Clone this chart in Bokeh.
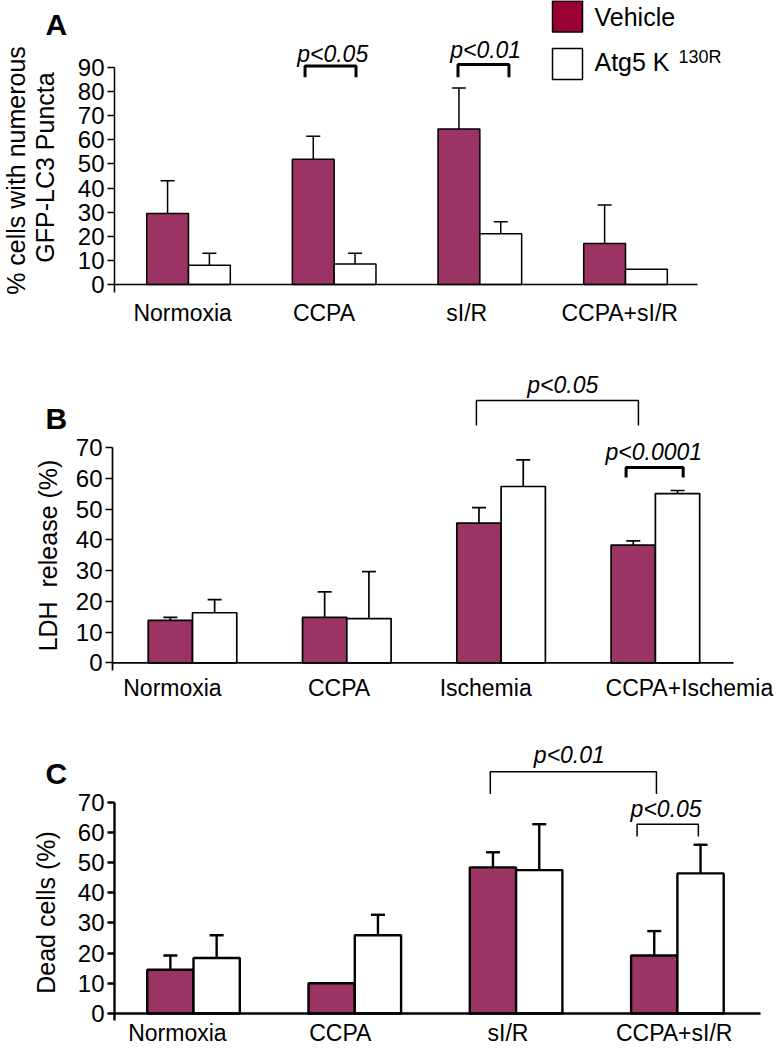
import numpy as np
from bokeh.plotting import figure
from bokeh.layouts import column
from bokeh.models import Range1d, FixedTicker, Whisker, TeeHead, ColumnDataSource
from bokeh.embed import file_html
from bokeh.resources import INLINE
from bokeh.core.properties import value

# ---------------- data ----------------
SERIES = ["Vehicle", "Atg5 K", "130R"]

A_CATS = ["Normoxia", "CCPA", "sI/R", "CCPA+sI/R"]
A_VEH = [29.5, 52.0, 64.5, 17.0]
A_VEH_ERR = [13.5, 9.5, 17.0, 16.0]
A_MUT = [8.0, 8.5, 21.0, 6.3]
A_MUT_ERR = [5.0, 4.5, 5.0, 0.0]
A_TICKS = [0, 10, 20, 30, 40, 50, 60, 70, 80, 90]
A_YLABEL = ["% cells with numerous", "GFP-LC3 Puncta"]
A_PVALS = ["p<0.05", "p<0.01"]

B_CATS = ["Normoxia", "CCPA", "Ischemia", "CCPA+Ischemia"]
B_VEH = [13.8, 14.8, 45.5, 38.3]
B_VEH_ERR = [1.0, 8.3, 5.0, 1.4]
B_MUT = [16.3, 14.4, 57.4, 55.1]
B_MUT_ERR = [4.3, 15.3, 8.7, 1.0]
B_TICKS = [0, 10, 20, 30, 40, 50, 60, 70]
B_YLABEL = ["LDH\u00a0\u00a0release (%)"]
B_PVALS = ["p<0.05", "p<0.0001"]

C_CATS = ["Normoxia", "CCPA", "sI/R", "CCPA+sI/R"]
C_VEH = [14.5, 10.0, 48.4, 19.2]
C_VEH_ERR = [4.7, 0.0, 5.0, 8.1]
C_MUT = [18.4, 25.9, 47.5, 46.4]
C_MUT_ERR = [7.5, 6.8, 15.2, 9.5]
C_TICKS = [0, 10, 20, 30, 40, 50, 60, 70]
C_YLABEL = ["Dead cells (%)"]
C_PVALS = ["p<0.01", "p<0.05"]

# ---------------- style / layout ----------------
FONT = "Liberation Sans"
VEH_FILL = "#9B3464"
LEG_FILL = "#990036"
MUT_FILL = "#FFFFFF"
BW = 0.287
W = 780
PAGE_LEFT = 0

# brackets: (x_left, x_right, y_top, y_leg, text_x, text_y, line_width)
A_BRACKETS = [(0.80, 1.15, 90.6, 86.0, 0.99, 95.8, 3), (1.85, 2.20, 91.2, 86.0, 2.04, 97.1, 3)]
B_BRACKETS = [(1.84, 2.89, 85.4, 77.3, 2.40, 90.3, 1.5), (2.81, 3.18, 63.6, 60.3, 2.99, 68.6, 3)]
C_BRACKETS = [(1.84, 2.87, 80.1, 72.7, 2.33, 85.6, 1.5), (2.75, 3.13, 62.7, 58.6, 2.93, 67.8, 1.5)]

A_LABEL_POS = [-0.04, 0.93, 1.91, 2.96]
B_LABEL_POS = [-0.13, 0.95, 1.90, 3.22]
C_LABEL_POS = [-0.10, 0.91, 1.95, 2.98]

# page-pixel geometry of each panel
GEOM_A = dict(fig_top=0, fig_h=343, y0=284.0, ppu=2.411, axis_low=292,
              xc0=188.0, ppg=145.67, axis_x=114, axis_end=697,
              letter=(45, 24), ylab_x=[15, 44], ylab_y=[170, 167], ylab_size="25px",
              lw=1.5, xstand=7)
GEOM_B = dict(fig_top=343, fig_h=360, y0=662.3, ppu=3.071, axis_low=670,
              xc0=192.0, ppg=154.3, axis_x=112, axis_end=733,
              letter=(45, 417.5), ylab_x=[47], ylab_y=[555], ylab_size="25px",
              lw=1.7, xstand=4)
GEOM_C = dict(fig_top=703, fig_h=345, y0=1013.0, ppu=3.019, axis_low=1020,
              xc0=193.0, ppg=161.3, axis_x=114, axis_end=760,
              letter=(45, 773), ylab_x=[45], ylab_y=[912], ylab_size="25px",
              lw=2.4, xstand=-1)


def build(g, cats, veh, veh_err, mut, mut_err, yticks, ylabel, letter, brackets, pvals,
          label_pos):
    ppu, ppg = g["ppu"], g["ppg"]

    def dy(py):
        return (g["y0"] - py) / ppu

    def dx(px):
        return (px - g["xc0"]) / ppg

    y_start = dy(g["fig_top"] + g["fig_h"])
    y_end = dy(g["fig_top"])
    x_start = dx(PAGE_LEFT)
    x_end = dx(PAGE_LEFT + W)
    lw = g["lw"]
    p = figure(width=W, height=g["fig_h"], x_range=Range1d(x_start, x_end),
               y_range=Range1d(y_start, y_end), output_backend="svg",
               toolbar_location=None, title=None,
               min_border_left=0, min_border_right=0, min_border_top=0, min_border_bottom=0)
    p.outline_line_color = None
    p.grid.visible = False
    p.background_fill_color = "white"
    p.border_fill_color = "white"

    n = len(cats)
    idx = np.arange(n)
    src_v = ColumnDataSource(dict(x=idx - BW / 2, top=veh))
    src_m = ColumnDataSource(dict(x=idx + BW / 2, top=mut))
    p.vbar(x="x", top="top", bottom=0, width=BW, source=src_v, fill_color=VEH_FILL,
           line_color="black", line_width=lw)
    p.vbar(x="x", top="top", bottom=0, width=BW, source=src_m, fill_color=MUT_FILL,
           line_color="black", line_width=lw)

    for xs, tops, errs in [(idx - BW / 2, veh, veh_err), (idx + BW / 2, mut, mut_err)]:
        keep = [i for i in range(n) if errs[i] > 0]
        src = ColumnDataSource(dict(base=[float(xs[i]) for i in keep],
                                    lower=[tops[i] for i in keep],
                                    upper=[tops[i] + errs[i] for i in keep]))
        w = Whisker(source=src, base="base", lower="lower", upper="upper",
                    dimension="height", line_width=lw, line_color="black",
                    upper_head=TeeHead(size=14, line_width=lw, line_color="black"),
                    lower_head=None)
        p.add_layout(w)

    # x baseline
    ax_x = dx(g["axis_x"])
    p.segment(x0=[ax_x], y0=[0], x1=[dx(g["axis_end"])], y1=[0], line_color="black",
              line_width=lw)

    # significance brackets
    for (x1, x2, yt, yl, tx, ty, blw), txt in zip(brackets, pvals):
        p.line(x=[x1, x1, x2, x2], y=[yl, yt, yt, yl], line_color="black", line_width=blw)
        p.text(x=[tx], y=[ty], text=[txt], text_font=value(FONT), text_font_style="italic",
               text_font_size="23px", text_align="center", text_baseline="middle",
               text_color="black")

    # panel letter
    p.text(x=[dx(g["letter"][0])], y=[dy(g["letter"][1])], text=[letter],
           text_font=value(FONT), text_font_style="bold", text_font_size="30px",
           text_align="left", text_baseline="middle", text_color="black")

    # y axis title (rotated)
    p.text(x=[dx(v) for v in g["ylab_x"]], y=[dy(v) for v in g["ylab_y"]], text=ylabel,
           angle=np.pi / 2, text_font=value(FONT), text_font_size=g["ylab_size"],
           text_align="center", text_baseline="middle", text_color="black")

    yax = p.yaxis[0]
    yax.fixed_location = ax_x
    yax.ticker = FixedTicker(ticks=yticks)
    yax.bounds = (dy(g["axis_low"]), yticks[-1])
    yax.major_tick_out = 7
    yax.major_tick_in = 0
    yax.minor_tick_out = 0
    yax.minor_tick_in = 0
    yax.axis_line_width = lw
    yax.major_tick_line_width = lw
    yax.major_label_text_font = FONT
    yax.major_label_text_font_size = "24px"
    yax.major_label_text_color = "black"
    yax.major_label_standoff = 3

    xax = p.xaxis[0]
    xax.fixed_location = dy(g["axis_low"])
    xax.ticker = FixedTicker(ticks=label_pos)
    xax.major_label_overrides = {pos: c for pos, c in zip(label_pos, cats)}
    xax.axis_line_color = None
    xax.major_tick_line_color = None
    xax.minor_tick_line_color = None
    xax.major_tick_out = 0
    xax.major_tick_in = 0
    xax.major_label_text_font = FONT
    xax.major_label_text_font_size = "23px"
    xax.major_label_text_color = "black"
    xax.major_label_standoff = g["xstand"]
    return p, dx, dy


pA, dxA, dyA = build(GEOM_A, A_CATS, A_VEH, A_VEH_ERR, A_MUT, A_MUT_ERR, A_TICKS, A_YLABEL,
                     "A", A_BRACKETS, A_PVALS, A_LABEL_POS)
pB, _, _ = build(GEOM_B, B_CATS, B_VEH, B_VEH_ERR, B_MUT, B_MUT_ERR, B_TICKS, B_YLABEL,
                 "B", B_BRACKETS, B_PVALS, B_LABEL_POS)
pC, _, _ = build(GEOM_C, C_CATS, C_VEH, C_VEH_ERR, C_MUT, C_MUT_ERR, C_TICKS, C_YLABEL,
                 "C", C_BRACKETS, C_PVALS, C_LABEL_POS)

# legend for panel A (page-pixel layout converted to panel A data space)
pA.rect(x=[dxA(567), dxA(567)], y=[dyA(16), dyA(63.5)], width=30, height=31,
        width_units="screen", height_units="screen", fill_color=[LEG_FILL, MUT_FILL],
        line_color="black", line_width=1.5)
pA.text(x=[dxA(594), dxA(594)], y=[dyA(16.5), dyA(61.5)], text=[SERIES[0], SERIES[1]],
        text_font=value(FONT), text_font_size="25px", text_baseline="middle",
        text_align="left", text_color="black")
pA.text(x=[dxA(678)], y=[dyA(56.5)], text=[SERIES[2]], text_font=value(FONT),
        text_font_size="18px", text_baseline="middle", text_align="left", text_color="black")

layout = column(pA, pB, pC, spacing=0)
open("out.html", "w").write(file_html(layout, INLINE))
